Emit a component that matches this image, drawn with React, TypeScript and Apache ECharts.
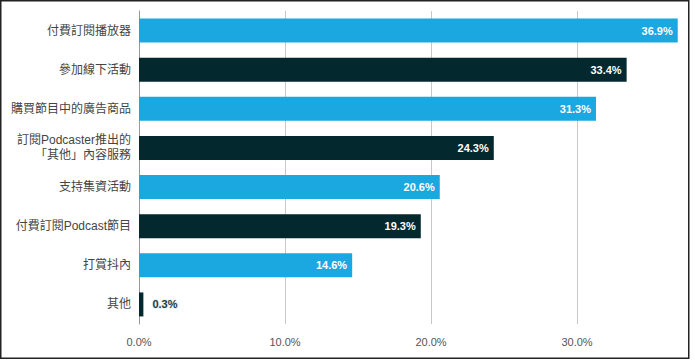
import React, { useEffect, useRef } from "react";
import * as echarts from "echarts";

const categories = [
  "付費訂閱播放器",
  "參加線下活動",
  "購買節目中的廣告商品",
  "訂閱Podcaster推出的\n「其他」內容服務",
  "支持集資活動",
  "付費訂閱Podcast節目",
  "打賞抖內",
  "其他",
];
const values = [36.9, 33.4, 31.3, 24.3, 20.6, 19.3, 14.6, 0.3];
const barColors = ["#1ba7e0", "#03292e"];
const xTicks = [0, 10, 20, 30];

export default function App() {
  const ref = useRef<HTMLDivElement>(null);
  useEffect(() => {
    document.body.style.margin = "0";
    if (!ref.current) return;
    const chart = echarts.init(ref.current, null, { renderer: "svg" });
    const fontFamily = "Arial, 'Liberation Sans', 'Noto Sans CJK TC', sans-serif";
    chart.setOption({
      animation: false,
      textStyle: { fontFamily },
      grid: { left: 139, right: 15.8, top: 11, bottom: 36, containLabel: false },
      xAxis: {
        type: "value",
        min: 0,
        max: 37,
        interval: 10,
        axisLine: { show: false },
        axisTick: { show: false },
        axisLabel: {
          showMaxLabel: false,
          color: "#555",
          fontSize: 11,
          margin: 12,
          formatter: (v: number) => (xTicks.includes(v) ? v.toFixed(1) + "%" : ""),
        },
        splitLine: {
          show: true,
          showMaxLine: false,
          lineStyle: { color: "#c8c8c8", width: 1 },
        },
      },
      yAxis: {
        type: "category",
        inverse: true,
        data: categories,
        axisLine: { show: true, lineStyle: { color: "#999", width: 1 } },
        axisTick: { show: false },
        axisLabel: {
          color: "#444",
          fontSize: 12,
          margin: 8,
          lineHeight: 15,
          align: "right",
        },
      },
      series: [
        {
          type: "bar",
          barWidth: 24,
          data: values.map((v, i) => {
            const isLast = i === values.length - 1;
            return {
              value: v,
              itemStyle: { color: barColors[i % 2] },
              label: isLast
                ? {
                    show: true,
                    position: "right",
                    distance: 9,
                    color: "#1d3a3c",
                    fontWeight: "bold",
                    fontSize: 11,
                    textBorderColor: "#e8f3f3",
                    textBorderWidth: 2,
                  }
                : undefined,
            };
          }),
          label: {
            show: true,
            position: "insideRight",
            distance: 5,
            color: "#ffffff",
            fontWeight: "bold",
            fontSize: 11,
            formatter: (p: any) => p.value.toFixed(1) + "%",
          },
        },
      ],
      graphic: [
        {
          type: "rect",
          shape: { x: 0.75, y: 0.75, width: 688, height: 357.5 },
          style: { fill: "none", stroke: "#222", lineWidth: 1.5 },
          silent: true,
        },
      ],
    });
    return () => chart.dispose();
  }, []);
  return <div ref={ref} style={{ width: 695, height: 360 }} />;
}
